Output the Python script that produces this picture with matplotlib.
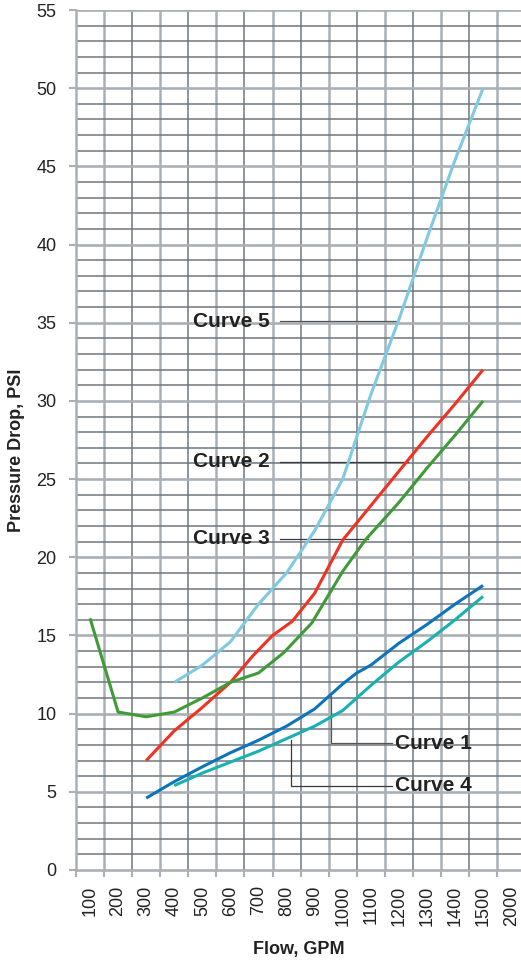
import numpy as np
import matplotlib
matplotlib.use('Agg')
import matplotlib.pyplot as plt

plt.rcParams['font.family'] = ['Liberation Sans', 'DejaVu Sans']

# x axis: flow bins (last label is 2000 at the next slot)
tick_flows = [100, 200, 300, 400, 500, 600, 700, 800, 900, 1000, 1100, 1200, 1300, 1400, 1500, 1600]
tick_labels = ['100', '200', '300', '400', '500', '600', '700', '800', '900', '1000',
               '1100', '1200', '1300', '1400', '1500', '2000']

# curves (flow GPM, pressure drop PSI)
flow_c1 = [300, 400, 500, 600, 700, 800, 900, 1000, 1050, 1100, 1200, 1300, 1400, 1500]
psi_c1 = [4.6, 5.65, 6.6, 7.5, 8.3, 9.2, 10.3, 11.9, 12.6, 13.1, 14.5, 15.7, 17.0, 18.2]

flow_c2 = [300, 400, 500, 600, 680, 750, 820, 900, 1000, 1100, 1200, 1300, 1400, 1500]
psi_c2 = [7.0, 8.9, 10.4, 12.0, 13.7, 15.0, 15.9, 17.7, 21.1, 23.3, 25.5, 27.7, 29.8, 32.0]

flow_c3 = [100, 200, 300, 400, 500, 600, 700, 790, 890, 1000, 1080, 1200, 1300, 1400, 1500]
psi_c3 = [16.1, 10.1, 9.8, 10.1, 11.0, 12.0, 12.6, 13.9, 15.8, 19.1, 21.1, 23.5, 25.7, 27.8, 30.0]

flow_c4 = [400, 500, 600, 700, 800, 900, 1000, 1100, 1200, 1300, 1400, 1500]
psi_c4 = [5.4, 6.2, 6.9, 7.6, 8.4, 9.2, 10.2, 11.8, 13.3, 14.6, 16.0, 17.5]

flow_c5 = [400, 500, 600, 700, 800, 900, 1000, 1100, 1200, 1300, 1400, 1500]
psi_c5 = [12.0, 13.1, 14.6, 17.0, 19.0, 21.7, 25.0, 30.4, 35.2, 40.4, 45.4, 50.0]

curves = [
    (flow_c5, psi_c5, '#80c9e2'),
    (flow_c2, psi_c2, '#ef3322'),
    (flow_c3, psi_c3, '#3f9b37'),
    (flow_c1, psi_c1, '#0b74bd'),
    (flow_c4, psi_c4, '#18b0b1'),
]

light = '#a9b0b5'
dark = '#6d767e'

fig = plt.figure(figsize=(5.21, 9.6), dpi=100)
ax = fig.add_axes([76/521, 90/960, 445/521, 860/960])
ax.set_xlim(50, 1635)
ax.set_ylim(0, 55)

# grid
for k, edge in enumerate(np.arange(50, 1650, 100)):
    if k == 0:
        continue
    if k % 2 == 1:
        ax.axvline(edge, color=light, lw=1.8, zorder=1)
    else:
        ax.axvline(edge, color=dark, lw=1.1, zorder=1)
for v in range(1, 56):
    if v % 5 == 0:
        ax.axhline(v, color=light, lw=1.9, zorder=1)
    else:
        ax.axhline(v, color=dark, lw=1.1, zorder=1)

for s in ['top', 'right']:
    ax.spines[s].set_visible(False)
ax.spines['left'].set_color(light)
ax.spines['left'].set_linewidth(1.8)
ax.spines['bottom'].set_color(light)
ax.spines['bottom'].set_linewidth(1.9)

for fl, ps, col in curves:
    ax.plot(fl, ps, color=col, lw=2.2, zorder=3, solid_capstyle='butt')

# ticks
ax.set_yticks(np.arange(0, 56, 5))
ax.tick_params(axis='y', length=5, width=1.5, color=light, pad=9, labelsize=13, labelcolor='#222222')
ax.set_xticks(tick_flows)
ax.set_xticklabels(tick_labels, rotation=90)
ax.tick_params(axis='x', which='major', length=0, pad=11, labelsize=13, labelcolor='#222222')
ax.set_xticks(np.arange(50, 1600, 100), minor=True)
ax.tick_params(axis='x', which='minor', length=5, width=1.5, color=light, direction='out')

ax.text(0.5, -0.093, 'Flow, GPM', transform=ax.transAxes, ha='center', va='center',
        fontsize=13, fontweight='bold', color='#222222')
ax.text(-0.133, 0.488, 'Pressure Drop, PSI', transform=ax.transAxes, ha='center', va='center',
        rotation=90, fontsize=13, fontweight='bold', color='#222222')

# curve labels with leader lines
lead = '#3a3a3a'
ax.text(467, 35.1, 'Curve 5', fontsize=15, fontweight='bold', va='center', ha='left', color='#222222', zorder=4)
ax.plot([777, 1192], [35.1, 35.1], color='#555555', lw=0.9, zorder=2)
ax.text(467, 26.1, 'Curve 2', fontsize=15, fontweight='bold', va='center', ha='left', color='#222222', zorder=4)
ax.plot([777, 1233], [26.1, 26.1], color=lead, lw=0.9, zorder=2)
ax.text(467, 21.2, 'Curve 3', fontsize=15, fontweight='bold', va='center', ha='left', color='#222222', zorder=4)
ax.plot([777, 1090], [21.2, 21.2], color=lead, lw=0.9, zorder=2)

ax.plot([957, 957, 1175], [11.1, 8.1, 8.1], color='#555555', lw=0.9, zorder=2)
ax.text(1186, 8.1, 'Curve 1', fontsize=15, fontweight='bold', va='center', ha='left', color='#222222', zorder=4)
ax.plot([816, 816, 1175], [8.3, 5.4, 5.4], color=lead, lw=0.9, zorder=2)
ax.text(1186, 5.4, 'Curve 4', fontsize=15, fontweight='bold', va='center', ha='left', color='#222222', zorder=4)

fig.savefig('out.png', dpi=100)
